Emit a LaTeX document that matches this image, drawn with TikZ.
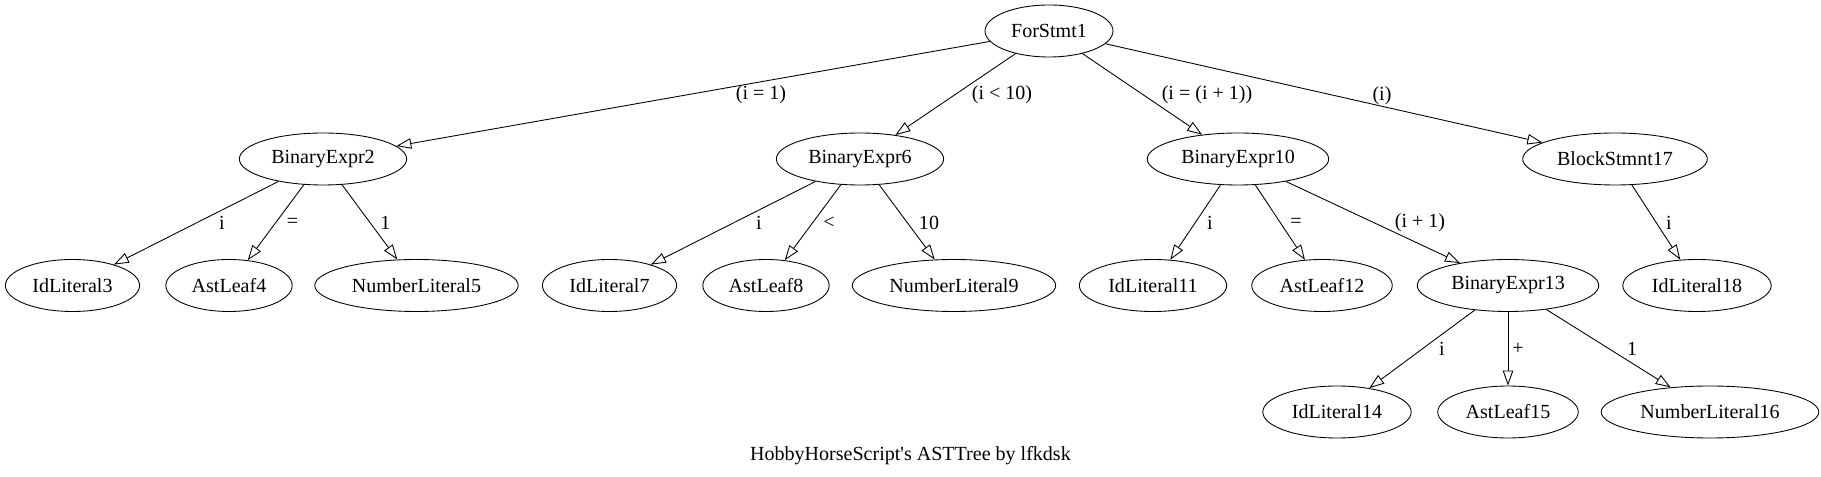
\documentclass[tikz,border=0pt]{standalone}
\usepackage{fontspec}
\setmainfont{Liberation Serif}
\usetikzlibrary{positioning,arrows.meta,shapes.geometric}

\begin{document}
\begin{tikzpicture}
\tikzstyle{ast}=[draw,ellipse,line width=0.5pt,inner xsep=0.148cm,inner ysep=0.04cm,minimum height=1.04cm,font=\fontsize{11.4}{13}\selectfont];
\tikzstyle{lbl}=[inner sep=0pt,font=\fontsize{11.4}{13}\selectfont];
\tikzstyle{edge}=[line width=0.5pt,-{Triangle[open,length=0.3cm,width=0.21cm]}];

\useasboundingbox (0,0) rectangle (36.42,-9.54);

\begin{scope}
        % tree nodes
        \node[ast] (for1) at (20.98,-0.62) {ForStmt1};

        \node[ast] (bin2) at (6.46,-3.18) {BinaryExpr2};
        \node[ast] (bin6) at (17.20,-3.18) {BinaryExpr6};
        \node[ast] (bin10) at (24.76,-3.18) {BinaryExpr10};
        \node[ast] (blk17) at (32.30,-3.18) {BlockStmnt17};

        \node[ast] (id3) at (1.45,-5.71) {IdLiteral3};
        \node[ast] (leaf4) at (4.58,-5.71) {AstLeaf4};
        \node[ast] (num5) at (8.33,-5.71) {NumberLiteral5};
        \node[ast] (id7) at (12.19,-5.71) {IdLiteral7};
        \node[ast] (leaf8) at (15.32,-5.71) {AstLeaf8};
        \node[ast] (num9) at (19.08,-5.71) {NumberLiteral9};
        \node[ast] (id11) at (23.06,-5.71) {IdLiteral11};
        \node[ast] (leaf12) at (26.44,-5.71) {AstLeaf12};
        \node[ast] (bin13) at (30.16,-5.71) {BinaryExpr13};
        \node[ast] (id18) at (33.94,-5.71) {IdLiteral18};

        \node[ast] (id14) at (26.74,-8.24) {IdLiteral14};
        \node[ast] (leaf15) at (30.16,-8.24) {AstLeaf15};
        \node[ast] (num16) at (34.20,-8.24) {NumberLiteral16};

        \foreach \a/\b in {for1/bin2,for1/bin6,for1/bin10,for1/blk17,
                           bin2/id3,bin2/leaf4,bin2/num5,
                           bin6/id7,bin6/leaf8,bin6/num9,
                           bin10/id11,bin10/leaf12,bin10/bin13,
                           blk17/id18,
                           bin13/id14,bin13/leaf15,bin13/num16}
          \draw[edge] (\a) -- (\b);

        % edge labels
        \node[lbl] (l2) at (15.22,-1.90) {(i = 1)};
        \node[lbl] (l6) at (20.04,-1.90) {(i < 10)};
        \node[lbl] (l10) at (24.14,-1.90) {(i = (i + 1))};
        \node[lbl] (l17) at (27.64,-1.92) {(i)};

        \node[lbl] (l3) at (4.44,-4.46) {i};
        \node[lbl] (l4) at (5.85,-4.46) {=};
        \node[lbl] (l5) at (7.71,-4.46) {1};
        \node[lbl] (l7) at (15.18,-4.46) {i};
        \node[lbl] (l8) at (16.58,-4.46) {<};
        \node[lbl] (l9) at (18.58,-4.46) {10};
        \node[lbl] (l11) at (24.20,-4.46) {i};
        \node[lbl] (l12) at (25.92,-4.46) {=};
        \node[lbl] (l13) at (28.40,-4.46) {(i + 1)};
        \node[lbl] (l18) at (33.38,-4.46) {i};

        \node[lbl] (l14) at (28.84,-6.98) {i};
        \node[lbl] (l15) at (30.36,-6.98) {+};
        \node[lbl] (l16) at (32.64,-6.98) {1};

        \node[lbl] (title) at (18.21,-9.12) {HobbyHorseScript\textquotesingle s ASTTree by lfkdsk};
\end{scope}

\end{tikzpicture}
\end{document}
